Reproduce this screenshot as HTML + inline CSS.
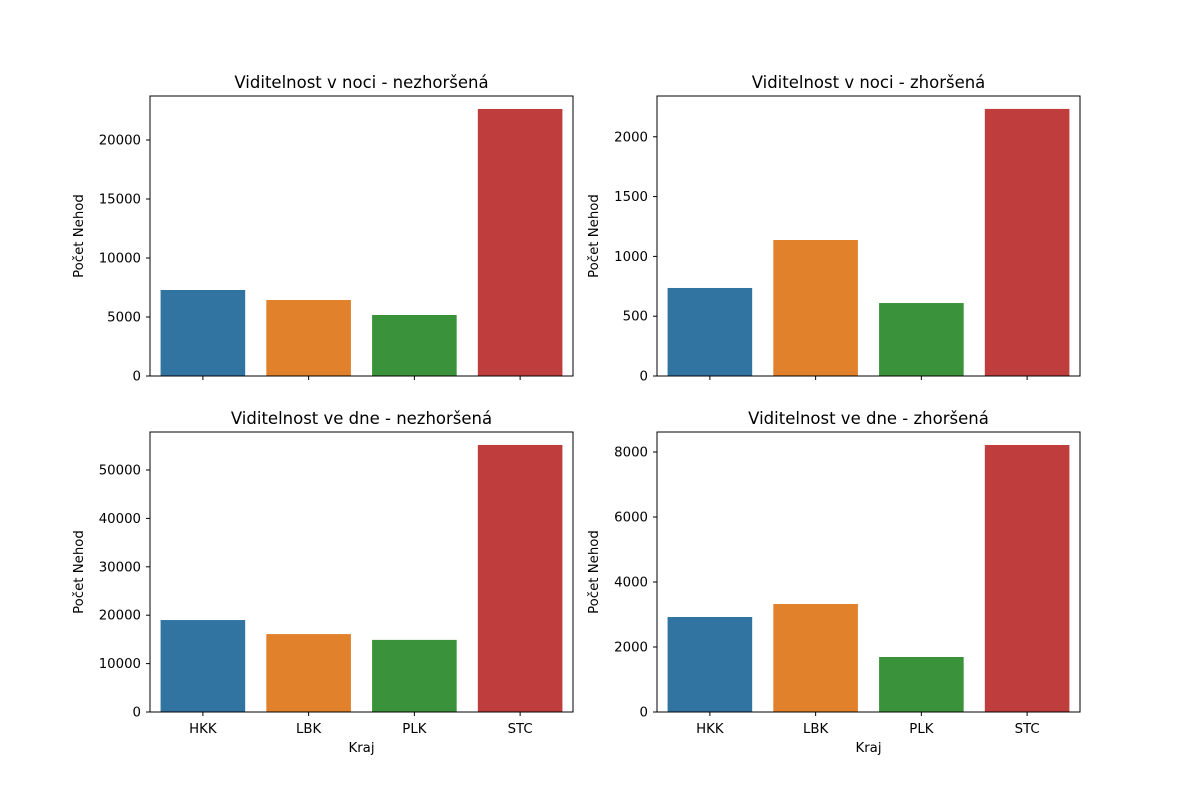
<!DOCTYPE html>
<html><head><meta charset="utf-8"><style>
html,body{margin:0;padding:0;background:#fff;}
svg{display:block;font-family:"DejaVu Sans","Liberation Sans",sans-serif;}
</style></head><body>
<svg id="fig" width="1200" height="800" viewBox="0 0 1200 800"></svg>
<script>
const categories = ["HKK","LBK","PLK","STC"];
const colors = ["#3274a1","#e1812c","#3a923a","#c03d3e"];
const titles = ["Viditelnost v noci - nezhoršená","Viditelnost v noci - zhoršená","Viditelnost ve dne - nezhoršená","Viditelnost ve dne - zhoršená"];
const valsNightGood = [7290, 6440, 5170, 22630];
const valsNightBad = [736, 1137, 610, 2233];
const valsDayGood = [19000, 16100, 14900, 55170];
const valsDayBad = [2923, 3323, 1692, 8215];
const yMaxes = [23730, 2341, 57850, 8615];
const ticks0 = [0,5000,10000,15000,20000];
const ticks1 = [0,500,1000,1500,2000];
const ticks2 = [0,10000,20000,30000,40000,50000];
const ticks3 = [0,2000,4000,6000,8000];

const NS="http://www.w3.org/2000/svg";
const svg=document.getElementById('fig');
function mk(tag,attrs,parent){const e=document.createElementNS(NS,tag);for(const k in attrs)e.setAttribute(k,attrs[k]);(parent||svg).appendChild(e);return e;}

const panels=[
 {x:150,y:96,vals:valsNightGood,ticks:ticks0,xl:false,key:"night-good",lo:67},
 {x:657,y:96,vals:valsNightBad,ticks:ticks1,xl:false,key:"night-bad",lo:59},
 {x:150,y:432,vals:valsDayGood,ticks:ticks2,xl:true,key:"day-good",lo:67},
 {x:657,y:432,vals:valsDayBad,ticks:ticks3,xl:true,key:"day-bad",lo:59}
];
const W=423,H=280;
panels.forEach((p,i)=>{
  const g=mk('g',{});
  
  
  const ymax=yMaxes[i];
  const ys=v=>p.y+H-v/ymax*H;
  const band=W/categories.length;
  const xs=j=>p.x+band*j+band/2;
  p.vals.forEach((v,j)=>{
    const r=mk('rect',{x:xs(j)-band*0.4,y:ys(v),width:band*0.8,height:p.y+H-ys(v),fill:colors[j]},g);
    
    
  });
  const fr=mk('rect',{x:p.x,y:p.y,width:W,height:H,fill:'none',stroke:'#000','stroke-width':1},g);
  
  
  p.ticks.forEach(t=>{
    const y=ys(t);
    mk('line',{x1:p.x-4,x2:p.x,y1:y,y2:y,stroke:'#000'},g);
    const tx=mk('text',{x:p.x-9,y:y+4.5,'text-anchor':'end','font-size':13.3},g);
    tx.textContent=t;
    
    
  });
  categories.forEach((c,j)=>{
    mk('line',{x1:xs(j),x2:xs(j),y1:p.y+H,y2:p.y+H+4,stroke:'#000'},g);
    if(p.xl){
      const tx=mk('text',{x:xs(j),y:p.y+H+21,'text-anchor':'middle','font-size':13.3},g);
      tx.textContent=c;
      
      
    }
  });
  const ti=mk('text',{x:p.x+W/2,y:p.y-8,'text-anchor':'middle','font-size':16.5},g);
  ti.textContent=titles[i];
  
  
  const yl=mk('text',{x:0,y:0,'text-anchor':'middle','font-size':13.3,transform:`translate(${p.x-p.lo},${p.y+H/2}) rotate(-90)`},g);
  yl.textContent="Počet Nehod";
  
  
  if(p.xl){
    const xl=mk('text',{x:p.x+W/2,y:p.y+H+40,'text-anchor':'middle','font-size':13.3},g);
    xl.textContent="Kraj";
    
    
  }
});
</script>
</body></html>
